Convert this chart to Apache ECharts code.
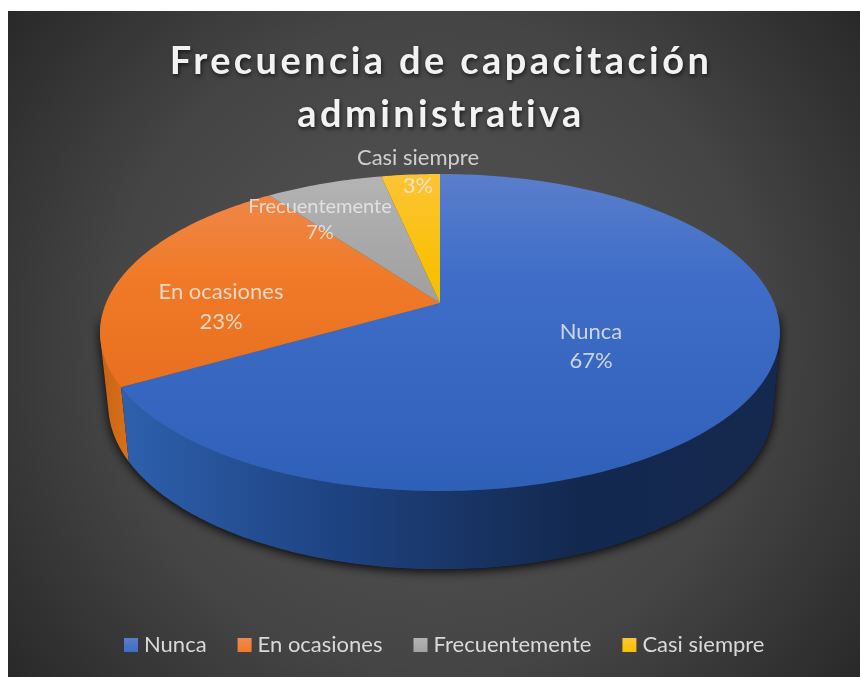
<!DOCTYPE html>
<html><head><meta charset="utf-8">
<style>html,body{margin:0;padding:0;background:#fff;overflow:hidden}#c{width:860px;height:677px}</style>
<script src="https://cdn.jsdelivr.net/npm/echarts@6/dist/echarts.min.js"></script>
</head><body><div id="c"></div>
<script>
// DATA
const titleText = 'Frecuencia de capacitación\nadministrativa';
const categories = ['Nunca', 'En ocasiones', 'Frecuentemente', 'Casi siempre'];
const values = [20, 7, 2, 1];

// STYLE / LAYOUT
const baseColors = ['#4472c4', '#ed7d31', '#a5a5a5', '#ffc000'];
const faceStops = [
  ['#5a7ecb', '#3f6dc7', '#2f60b8'],
  ['#ef8a50', '#f07a27', '#e0661a'],
  ['#b4b4b4', '#a3a3a3', '#8c8c8c'],
  ['#fdc435', '#f8c000', '#e0ae00']
];
const wallStops = [
  [[0, '#2e60ac'], [0.3, '#1f4585'], [0.5, '#193668'], [0.7, '#13284e'], [1, '#15294f']],
  [[0, '#c46416'], [1, '#dd7018']],
  [[0, '#777'], [1, '#777']],
  [[0, '#a98000'], [1, '#a98000']]
];
const labelAnchors = [[591, 346], [221, 307], [320, 220], [418, 172]];
const labelFontSizes = [22, 22, 20, 22];
const labelLineHeights = [29, 30, 26, 28];
const LABEL_FONT = 'Lato';
const topPlane = { cx: 440, cy: 303, r: 334, a: 153, k: 0.186 };
const basePlane = { cx: 441, cy: 374, r: 327, a: 159, k: 0.186 };
const frontLimit = [0.26, 0.74];
const total = values.reduce((s, v) => s + v, 0);

function project(pl, frac) {
  const t = frac * 2 * Math.PI, u = Math.sin(t), v = Math.cos(t), d = 1 + pl.k * v;
  return [pl.cx + pl.r * u / d, pl.cy - pl.a * v / d];
}
function arc(pl, s, e) {
  const pts = [], n = Math.max(2, Math.ceil((e - s) * 360));
  for (let i = 0; i <= n; i++) pts.push(project(pl, s + (e - s) * i / n));
  return pts;
}
function hull(points) {
  const p = points.slice().sort((a, b) => a[0] - b[0] || a[1] - b[1]);
  const cross = (o, a, b) => (a[0] - o[0]) * (b[1] - o[1]) - (a[1] - o[1]) * (b[0] - o[0]);
  const lo = [], up = [];
  for (const q of p) { while (lo.length > 1 && cross(lo[lo.length - 2], lo[lo.length - 1], q) <= 0) lo.pop(); lo.push(q); }
  for (const q of p.slice().reverse()) { while (up.length > 1 && cross(up[up.length - 2], up[up.length - 1], q) <= 0) up.pop(); up.push(q); }
  lo.pop(); up.pop();
  return lo.concat(up);
}
// Letter spacing for the bold title (canvas property)
const rawFill = CanvasRenderingContext2D.prototype.fillText;
CanvasRenderingContext2D.prototype.fillText = function (t, x, y, m) {
  this.letterSpacing = /bold/.test(this.font) ? '3.4px' : '0px';
  return m === undefined ? rawFill.call(this, t, x, y) : rawFill.call(this, t, x, y, m);
};

const chart = echarts.init(document.getElementById('c'), null, { renderer: 'canvas' });
const G = echarts.graphic;

function renderSlice(idx) {
  return function (params, api) {
    const s = api.value(0), e = api.value(1), children = [];
    const fs = faceStops[idx];
    const face = new G.LinearGradient(0, 174, 0, 491, [
      { offset: 0, color: fs[0] }, { offset: 0.33, color: fs[1] }, { offset: 1, color: fs[2] }
    ], true);
    const ws = Math.max(s, frontLimit[0]), we = Math.min(e, frontLimit[1]);
    if (we > ws) {
      const wallFill = new G.LinearGradient(idx === 0 ? 122 : 100, 0, idx === 0 ? 780 : 130, 0,
        wallStops[idx].map(p => ({ offset: p[0], color: p[1] })), true);
      const outline = hull(arc(topPlane, ws, we).concat(arc(basePlane, ws, we)));
      children.push({
        type: 'polygon', z2: 0, silent: true,
        shape: { points: outline },
        style: { fill: '#111', shadowBlur: 11, shadowColor: 'rgba(0,0,0,0.95)', shadowOffsetX: 0, shadowOffsetY: 2 }
      });
      children.push({
        type: 'polygon', z2: 3 - idx, silent: true,
        shape: { points: outline },
        style: { fill: wallFill }
      });
    }
    children.push({
      type: 'polygon', z2: 4, silent: true,
      shape: { points: [[topPlane.cx, topPlane.cy]].concat(arc(topPlane, s, e)) },
      style: { fill: face }
    });
    const pos = labelAnchors[idx];
    children.push({
      type: 'text', z2: 5, silent: true, x: pos[0], y: pos[1],
      style: {
        text: categories[idx] + '\n' + Math.round(values[idx] / total * 100) + '%',
        fill: 'rgba(235,235,235,0.82)', font: labelFontSizes[idx] + 'px ' + LABEL_FONT,
        align: 'center', verticalAlign: 'middle', lineHeight: labelLineHeights[idx]
      }
    });
    return { type: 'group', children };
  };
}

let acc = 0;
const series = categories.map((name, i) => {
  const s = acc / total; acc += values[i]; const e = acc / total;
  const fs = faceStops[i];
  return {
    name, type: 'custom', coordinateSystem: 'none', silent: true, animation: false,
    renderItem: renderSlice(i),
    itemStyle: { color: new G.LinearGradient(0, 0, 0, 1, [
      { offset: 0, color: fs[0] }, { offset: 1, color: fs[1] }]) },
    data: [[s, e, values[i]]]
  };
});

chart.setOption({
  backgroundColor: '#ffffff',
  animation: false,
  color: baseColors,
  graphic: [{
    type: 'rect', z: -10, silent: true,
    shape: { x: 8, y: 11, width: 852, height: 666 },
    style: { fill: new G.RadialGradient(0.5, 0.5, 0.81, [
      { offset: 0, color: '#575757' }, { offset: 0.6, color: '#454545' }, { offset: 1, color: '#292929' }]) }
  }],
  title: {
    text: titleText, left: 436, top: 30, textAlign: 'center',
    textStyle: {
      color: '#f2f2f2', fontFamily: LABEL_FONT, fontWeight: 'bold', fontSize: 38, lineHeight: 53,
      textShadowColor: 'rgba(0,0,0,0.65)', textShadowBlur: 4, textShadowOffsetX: 1, textShadowOffsetY: 2
    }
  },
  legend: {
    data: categories, left: 119, top: 629, icon: 'rect',
    itemWidth: 14, itemHeight: 14, itemGap: 31, selectedMode: false,
    textStyle: { color: '#d9d9d9', fontFamily: LABEL_FONT, fontSize: 22, padding: [0, 0, 0, 1] }
  },
  series
});
</script></body></html>
